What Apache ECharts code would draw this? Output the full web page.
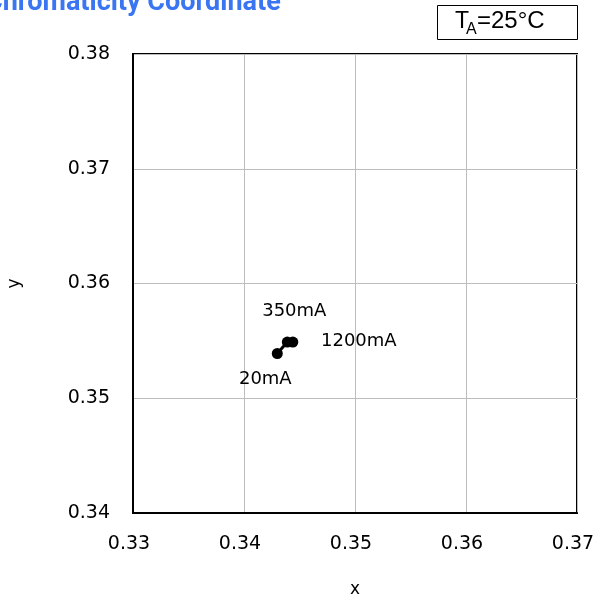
<!DOCTYPE html>
<html><head><meta charset="utf-8">
<script src="https://cdn.jsdelivr.net/npm/echarts@6/dist/echarts.min.js"></script>
<style>html,body{margin:0;padding:0;background:#fff}#c{width:597px;height:599px}</style>
</head><body><div id="c"></div>
<script>
var titleText = 'Chromaticity Coordinate';
var currents = ['20mA', '350mA', '1200mA'];
var xValues = [0.3430, 0.3439, 0.3444];
var yValues = [0.3539, 0.3549, 0.3549];
var xTicks = [0.33, 0.34, 0.35, 0.36, 0.37];
var yTicks = [0.34, 0.35, 0.36, 0.37, 0.38];

var labelOffsets = [[-12, 26], [7, -31], [66, -1]];
var pts = currents.map(function (c, i) {
  return { value: [xValues[i], yValues[i]], name: c,
    label: { show: true, formatter: c, position: 'inside', offset: labelOffsets[i] } };
});
var FONT = 'DejaVu Sans';
var chart = echarts.init(document.getElementById('c'));
chart.setOption({
  animation: false,
  backgroundColor: '#fff',
  grid: { left: 133, right: 20, top: 54, bottom: 86, outerBoundsMode: 'none', containLabel: false,
          show: true, borderColor: '#000', borderWidth: 2, backgroundColor: 'transparent' },
  xAxis: {
    type: 'value', min: xTicks[0], max: xTicks[xTicks.length - 1], interval: 0.01,
    name: 'x', nameLocation: 'middle', nameGap: 68,
    nameTextStyle: { fontFamily: FONT, fontSize: 17, color: '#000' },
    axisLine: { show: true, lineStyle: { color: '#000', width: 2 } },
    axisTick: { show: false },
    axisLabel: { fontFamily: FONT, fontSize: 19, color: '#000', margin: 22, padding: [0, 8, 0, 0],
      formatter: function (v) { return v.toFixed(2); } },
    splitLine: { show: true, lineStyle: { color: '#bdbdbd', width: 1 } }
  },
  yAxis: {
    type: 'value', min: yTicks[0], max: yTicks[yTicks.length - 1], interval: 0.01,
    name: 'y', nameLocation: 'middle', nameGap: 110, nameRotate: 90,
    nameTextStyle: { fontFamily: FONT, fontSize: 17, color: '#000' },
    axisLine: { show: true, lineStyle: { color: '#000', width: 2 } },
    axisTick: { show: false },
    axisLabel: { fontFamily: FONT, fontSize: 19, color: '#000', margin: 23,
      formatter: function (v) { return v.toFixed(2); } },
    splitLine: { show: true, lineStyle: { color: '#bdbdbd', width: 1 } }
  },
  series: [{
    type: 'line', data: pts, symbol: 'circle', symbolSize: 11,
    itemStyle: { color: '#000' }, lineStyle: { color: '#000', width: 3 },
    label: { fontFamily: FONT, fontSize: 18, color: '#000' },
    z: 5
  }],
  graphic: [
    { type: 'text', x: -15, y: 3.5, style: { text: titleText, font: 'bold 27px Roboto', fill: '#3a76f2', verticalAlign: 'middle' } },
    { type: 'rect', shape: { x: 437.5, y: 5.5, width: 140, height: 34 }, style: { fill: '#fff', stroke: '#000', lineWidth: 1 } },
    { type: 'text', x: 455, y: 21.6, style: { text: 'T', font: '23px "Liberation Sans"', fill: '#000', verticalAlign: 'middle' } },
    { type: 'text', x: 466, y: 29.2, style: { text: 'A', font: '16px "Liberation Sans"', fill: '#000', verticalAlign: 'middle' } },
    { type: 'text', x: 477, y: 21.6, style: { text: '=25°C', font: '24px "Liberation Sans"', fill: '#000', verticalAlign: 'middle' } }
  ]
});
</script></body></html>
